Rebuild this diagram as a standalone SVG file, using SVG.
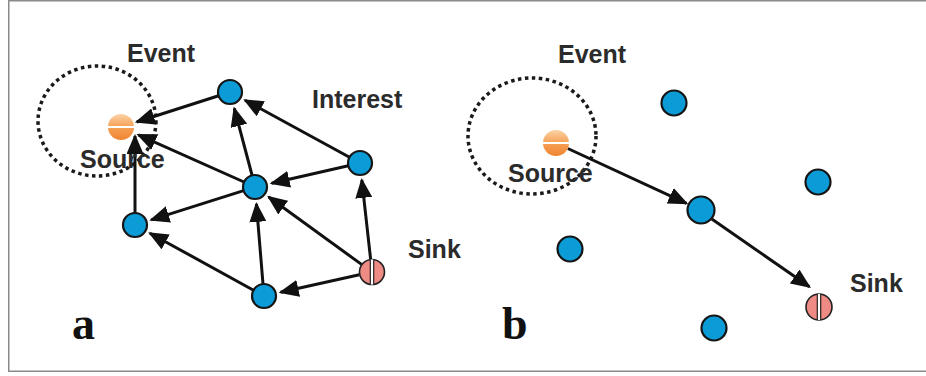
<svg xmlns="http://www.w3.org/2000/svg" width="926" height="376" viewBox="0 0 926 376">
<style>
.lbl{font-family:"Liberation Sans",Arial,sans-serif;font-weight:bold;font-size:25px;fill:#2b2b2b}
.pan{font-family:"Liberation Serif","Times New Roman",serif;font-weight:bold;font-size:46px;fill:#111}
.node{fill:#0b9bd7;stroke:#151515;stroke-width:2.2}
.sinkc{fill:#ef8b85;stroke:#222;stroke-width:1.6}
.edge{stroke:#111;stroke-width:3;fill:none;marker-end:url(#ah)}
.evt{fill:none;stroke:#1a1a1a;stroke-width:3.5;stroke-dasharray:3.5 3.5}
.frame{stroke:#8a8a8a;stroke-width:1.5;fill:none}
</style>
<defs>
<marker id="ah" markerUnits="userSpaceOnUse" markerWidth="20" markerHeight="17" viewBox="0 0 20 17" refX="18" refY="8.5" orient="auto">
<path d="M0,0 L20,8.5 L0,17 z" fill="#111"/>
</marker>
<linearGradient id="og" x1="0" y1="0" x2="0" y2="1">
<stop offset="0" stop-color="#fcd2a6"/>
<stop offset="0.5" stop-color="#f6a055"/>
<stop offset="1" stop-color="#ee8530"/>
</linearGradient>
</defs>
<rect width="926" height="376" fill="#ffffff"/>
<path class="frame" d="M926,0.75 H8.75 V371.25 H926"/>

<g id="event-a"><ellipse class="evt" cx="97" cy="121" rx="59" ry="55"/></g>
<g id="event-b"><ellipse class="evt" cx="532" cy="136" rx="64" ry="58"/></g>

<g id="connectors">
<line class="edge" x1="218.6" y1="95.7" x2="136.7" y2="122"/>
<line class="edge" x1="244" y1="182" x2="138.3" y2="134.8"/>
<line class="edge" x1="135" y1="213" x2="135" y2="136"/>
<line class="edge" x1="252" y1="175" x2="234.3" y2="108.4"/>
<line class="edge" x1="349.5" y1="157.3" x2="245" y2="100.2"/>
<line class="edge" x1="348.3" y1="165.7" x2="271.6" y2="183.3"/>
<line class="edge" x1="243.6" y1="190.6" x2="151.2" y2="219.9"/>
<line class="edge" x1="361.5" y1="264.4" x2="268.7" y2="197"/>
<line class="edge" x1="370.6" y1="259.1" x2="361.8" y2="179.9"/>
<line class="edge" x1="263" y1="284" x2="256.4" y2="203.9"/>
<line class="edge" x1="253.5" y1="290.2" x2="149.9" y2="233.2"/>
<line class="edge" x1="359.3" y1="274.8" x2="280.6" y2="292.3"/>
<line class="edge" x1="567.8" y1="148.5" x2="686.5" y2="203.3"/>
<line class="edge" x1="711.8" y1="218.9" x2="809.4" y2="286.8"/>
</g>

<g id="source-a">
<circle cx="121" cy="127" r="13" fill="url(#og)"/>
<rect x="108" y="126" width="26" height="2" fill="#ffffff"/>
</g>
<g id="node-a-top"><circle class="node" cx="230" cy="92" r="12"/></g>
<g id="node-a-right"><circle class="node" cx="360" cy="163" r="12"/></g>
<g id="node-a-center"><circle class="node" cx="255" cy="187" r="12"/></g>
<g id="node-a-left"><circle class="node" cx="135" cy="225" r="12"/></g>
<g id="node-a-bottom"><circle class="node" cx="264" cy="296" r="12"/></g>
<g id="sink-a">
<circle class="sinkc" cx="372" cy="272" r="12.5"/>
<rect x="370.5" y="259.5" width="3" height="25" fill="#ffffff"/>
<line x1="370.3" y1="259.6" x2="370.3" y2="284.4" stroke="#222" stroke-width="1.2"/>
<line x1="373.7" y1="259.6" x2="373.7" y2="284.4" stroke="#222" stroke-width="1.2"/>
</g>

<g id="source-b">
<circle cx="556" cy="143" r="13" fill="url(#og)"/>
<rect x="543" y="142" width="26" height="2" fill="#ffffff"/>
</g>
<g id="node-b-1"><circle class="node" cx="674" cy="103" r="12.5"/></g>
<g id="node-b-2"><circle class="node" cx="818" cy="182" r="12.5"/></g>
<g id="node-b-relay"><circle class="node" cx="701" cy="210" r="13.5"/></g>
<g id="node-b-3"><circle class="node" cx="570" cy="249" r="12.5"/></g>
<g id="node-b-4"><circle class="node" cx="714" cy="328" r="12.5"/></g>
<g id="sink-b">
<circle class="sinkc" cx="819" cy="307" r="13"/>
<rect x="817.5" y="294" width="3" height="26" fill="#ffffff"/>
<line x1="817.3" y1="294.1" x2="817.3" y2="319.9" stroke="#222" stroke-width="1.2"/>
<line x1="820.7" y1="294.1" x2="820.7" y2="319.9" stroke="#222" stroke-width="1.2"/>
</g>

<g id="labels">
<text class="lbl" x="127" y="62">Event</text>
<text class="lbl" x="312" y="108">Interest</text>
<text class="lbl" x="80" y="168">Source</text>
<text class="lbl" x="408" y="258">Sink</text>
<text class="lbl" x="558" y="63">Event</text>
<text class="lbl" x="508" y="182">Source</text>
<text class="lbl" x="850" y="292">Sink</text>
<text class="pan" x="72" y="339">a</text>
<text class="pan" x="502" y="339">b</text>
</g>
</svg>
